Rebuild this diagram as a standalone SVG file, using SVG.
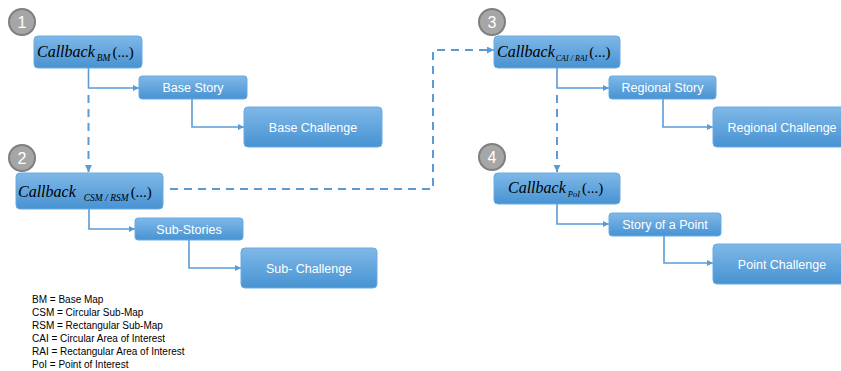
<svg xmlns="http://www.w3.org/2000/svg" width="841" height="371" viewBox="0 0 841 371">
<defs>
<linearGradient id="g" x1="0" y1="0" x2="0" y2="1">
<stop offset="0" stop-color="#7fb8e8"/>
<stop offset="1" stop-color="#4793d2"/>
</linearGradient>
<marker id="ah" viewBox="0 0 10 10" refX="10" refY="5" markerWidth="6" markerHeight="6" markerUnits="userSpaceOnUse" orient="auto">
<path d="M0,0 L10,5 L0,10 z" fill="#5b9bd5"/>
</marker>
<marker id="ahd" viewBox="0 0 10 10" refX="10" refY="5" markerWidth="7" markerHeight="7" markerUnits="userSpaceOnUse" orient="auto">
<path d="M0,0 L10,5 L0,10 z" fill="#5b9bd5"/>
</marker>
</defs>
<style>
.box{fill:url(#g);stroke:#6aaae0;stroke-width:1}
.lbl{font-family:"Liberation Sans",Arial,sans-serif;font-size:12.5px;fill:#ffffff;text-anchor:middle}
.cb{font-family:"Liberation Serif","Times New Roman",serif;font-style:italic;fill:#000}
.par{font-family:"Liberation Serif","Times New Roman",serif;fill:#000}
.num circle{fill:#a6a6a6;stroke:#7f7f7f;stroke-width:2}
.num text{font-family:"Liberation Sans",Arial,sans-serif;font-size:16px;fill:#fff;text-anchor:middle}
.solid{fill:none;stroke:#5b9bd5;stroke-width:1.6;marker-end:url(#ah)}
.dash{fill:none;stroke:#5b9bd5;stroke-width:2;stroke-dasharray:8,6;marker-end:url(#ahd)}
.legend{font-family:"Liberation Sans",Arial,sans-serif;font-size:10px;fill:#000}
</style>

<g id="connectors">
<path class="solid" d="M88.5,68 V88 H139"/>
<path class="solid" d="M192,99 V127 H244"/>
<path class="dash" d="M88.5,95 V172"/>
<path class="solid" d="M89,209 V229 H135"/>
<path class="solid" d="M189,240 V268 H241"/>
<path class="dash" d="M170,189 H433 V50 H494"/>
<path class="solid" d="M557,68 V88 H609"/>
<path class="solid" d="M663,99 V127 H713"/>
<path class="dash" d="M557,95 V172"/>
<path class="solid" d="M557,204 V224 H609"/>
<path class="solid" d="M664,236 V263 H713"/>
</g>

<g id="badge1" class="num"><circle cx="22" cy="22" r="13"/><text x="22" y="28">1</text></g>
<g id="badge2" class="num"><circle cx="22" cy="158" r="13"/><text x="22" y="164">2</text></g>
<g id="badge3" class="num"><circle cx="492" cy="22" r="13"/><text x="492" y="28">3</text></g>
<g id="badge4" class="num"><circle cx="492" cy="157" r="13"/><text x="492" y="163">4</text></g>

<g id="callbackBM">
<rect class="box" x="34" y="36" width="108" height="32" rx="4"/>
<text x="37" y="57"><tspan class="cb" font-size="16">Callback</tspan><tspan class="cb" font-size="9.5" dx="2" dy="4">BM</tspan><tspan class="par" font-size="15" dx="2" dy="-4">(...)</tspan></text>
</g>
<g id="baseStory">
<rect class="box" x="139" y="76" width="108" height="23" rx="3"/>
<text class="lbl" x="193" y="92">Base Story</text>
</g>
<g id="baseChallenge">
<rect class="box" x="244" y="107" width="138" height="40" rx="4"/>
<text class="lbl" x="313" y="131.5">Base Challenge</text>
</g>

<g id="callbackCSM">
<rect class="box" x="16" y="173" width="147" height="36" rx="4"/>
<text x="18" y="197"><tspan class="cb" font-size="16">Callback</tspan><tspan class="cb" font-size="9.5" dx="8" dy="4">CSM / RSM</tspan><tspan class="par" font-size="15" dx="2" dy="-4">(...)</tspan></text>
</g>
<g id="subStories">
<rect class="box" x="135" y="218" width="108" height="22" rx="3"/>
<text class="lbl" x="189" y="233.5">Sub-Stories</text>
</g>
<g id="subChallenge">
<rect class="box" x="241" y="248" width="136" height="40" rx="4"/>
<text class="lbl" x="309" y="272.5">Sub- Challenge</text>
</g>

<g id="callbackCAI">
<rect class="box" x="494" y="36" width="126" height="32" rx="4"/>
<text x="497" y="57"><tspan class="cb" font-size="16">Callback</tspan><tspan class="cb" font-size="8" dx="1" dy="4">CAI / RAI</tspan><tspan class="par" font-size="15" dx="2" dy="-4">(...)</tspan></text>
</g>
<g id="regionalStory">
<rect class="box" x="609" y="76" width="107" height="23" rx="3"/>
<text class="lbl" x="662.5" y="92">Regional Story</text>
</g>
<g id="regionalChallenge">
<rect class="box" x="713" y="107" width="138" height="40" rx="4"/>
<text class="lbl" x="782" y="131.5">Regional Challenge</text>
</g>

<g id="callbackPoI">
<rect class="box" x="494" y="173" width="126" height="31" rx="4"/>
<text x="508" y="193"><tspan class="cb" font-size="16">Callback</tspan><tspan class="cb" font-size="8.5" dx="2" dy="4">PoI</tspan><tspan class="par" font-size="15" dx="2" dy="-4">(...)</tspan></text>
</g>
<g id="storyPoint">
<rect class="box" x="609" y="213" width="112" height="23" rx="3"/>
<text class="lbl" x="665" y="229">Story of a Point</text>
</g>
<g id="pointChallenge">
<rect class="box" x="713" y="244" width="138" height="40" rx="4"/>
<text class="lbl" x="782" y="268.5">Point Challenge</text>
</g>

<g id="legend" class="legend">
<text x="32" y="302.5">BM = Base Map</text>
<text x="32" y="315.5">CSM = Circular Sub-Map</text>
<text x="32" y="328.5">RSM = Rectangular Sub-Map</text>
<text x="32" y="341.5">CAI = Circular Area of Interest</text>
<text x="32" y="354.5">RAI = Rectangular Area of Interest</text>
<text x="32" y="367.5">PoI = Point of Interest</text>
</g>
</svg>
